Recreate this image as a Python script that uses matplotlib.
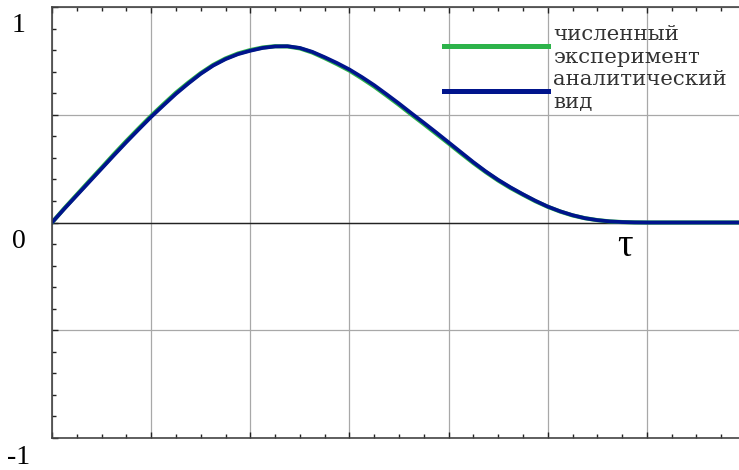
import matplotlib.pyplot as plt
from matplotlib.ticker import MultipleLocator

# time axis (grid units) and curve values
t = [0, 0.125, 0.25, 0.375, 0.5, 0.625, 0.75, 0.875, 1.0, 1.125, 1.25, 1.375,
     1.5, 1.625, 1.75, 1.875, 2.0, 2.125, 2.25, 2.375, 2.5, 2.625, 2.75,
     2.875, 3.0, 3.125, 3.25, 3.375, 3.5, 3.625, 3.75, 3.875, 4.0, 4.125,
     4.25, 4.375, 4.5, 4.625, 4.75, 4.875, 5.0, 5.125, 5.25, 5.375, 5.5,
     5.625, 5.75, 5.875, 6.0, 6.5, 7.0]
analytic = [0, 0.064, 0.126, 0.188, 0.25, 0.312, 0.373, 0.432, 0.49, 0.544,
            0.597, 0.645, 0.69, 0.728, 0.758, 0.781, 0.797, 0.81, 0.817,
            0.818, 0.81, 0.792, 0.767, 0.74, 0.71, 0.675, 0.637, 0.595,
            0.552, 0.507, 0.463, 0.418, 0.372, 0.326, 0.28, 0.237, 0.198,
            0.163, 0.131, 0.101, 0.074, 0.052, 0.034, 0.02, 0.011, 0.005,
            0.002, 0.0005, 0, 0, 0]
numeric = [0, 0.066, 0.129, 0.192, 0.254, 0.317, 0.378, 0.437, 0.495, 0.549,
           0.602, 0.649, 0.693, 0.731, 0.761, 0.784, 0.8, 0.812, 0.818,
           0.817, 0.808, 0.789, 0.763, 0.735, 0.705, 0.669, 0.631, 0.589,
           0.546, 0.501, 0.457, 0.412, 0.367, 0.321, 0.276, 0.234, 0.195,
           0.16, 0.129, 0.099, 0.073, 0.051, 0.033, 0.02, 0.011, 0.005,
           0.002, 0.0005, 0, 0, 0]

labels = ["численный\nэксперимент", "аналитический\nвид"]

serif = "Liberation Serif"

fig = plt.figure(figsize=(7.39, 4.70), dpi=100)
ax = fig.add_axes([52 / 739, 1 - 438 / 470, 694 / 739, 431 / 470])

ax.plot(t, numeric, color="#2db34a", lw=3.0, label=labels[0])
ax.plot(t, analytic, color="#00148c", lw=2.7, label=labels[1])

ax.set_xlim(0, 7)
ax.set_ylim(-1, 1)

ax.xaxis.set_major_locator(MultipleLocator(1))
ax.xaxis.set_minor_locator(MultipleLocator(0.25))
ax.yaxis.set_major_locator(MultipleLocator(0.5))
ax.yaxis.set_minor_locator(MultipleLocator(0.1))
ax.tick_params(which="both", direction="in", top=True, right=False,
               labelbottom=False, labelleft=False, color="#222222")
ax.tick_params(which="major", length=4, width=1)
ax.tick_params(which="minor", length=3, width=1)

ax.grid(True, which="major", color="#a8a8a8", lw=0.9)
ax.axhline(0, color="#222222", lw=1.0, zorder=1.9)

for side in ["left", "bottom", "top"]:
    ax.spines[side].set_color("#444444")
    ax.spines[side].set_linewidth(1.2)
ax.spines["right"].set_visible(False)

# y labels sit a bit below their ticks, as in the original
for val, txt in [(1, "1"), (0, "0"), (-1, "-1")]:
    ax.annotate(txt, xy=(0, val), xycoords=("axes fraction", "data"),
                xytext=(-33, -19), textcoords="offset pixels",
                ha="center", va="center", fontsize=20, family=serif)

ax.text(5.78, -0.11, "τ", fontsize=28, family=serif, ha="center", va="center")

leg = ax.legend(loc="upper left", bbox_to_anchor=((444 - 52) / 694, 1 - 18 / 431),
                frameon=False, prop={"family": "DejaVu Serif", "size": 15.3},
                handlelength=4.9, handletextpad=0.25, labelspacing=0.12,
                borderaxespad=0, borderpad=0)
for line in leg.get_lines():
    line.set_linewidth(3.6)
for txt in leg.get_texts():
    txt.set_linespacing(1.28)
    txt.set_color("#333333")

fig.savefig("out.png", dpi=100)
